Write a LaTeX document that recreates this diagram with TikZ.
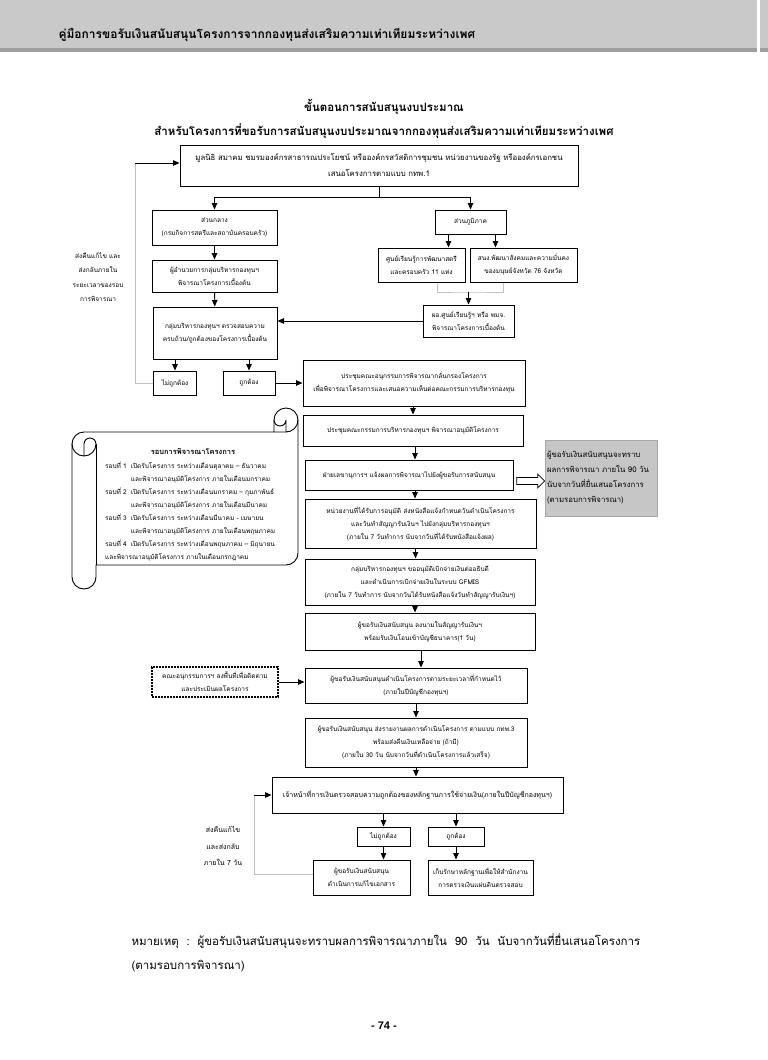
\documentclass[tikz,border=0pt]{standalone}
\usepackage{fontspec}
\setmainfont{Loma}[Script=Thai]
\newfontfamily\numfont{Liberation Sans}
\usetikzlibrary{arrows.meta,shapes.arrows}

\begin{document}
\begin{tikzpicture}[x=1pt,y=-1pt,
  box/.style={draw=black,line width=1pt,align=center,inner sep=1pt,
    font=\fontsize{6.5}{13}\selectfont},
  side/.style={align=center,font=\fontsize{6.5}{14.5}\selectfont},
  arr/.style={-{Triangle[length=6.5pt,width=5.5pt]},line width=0.9pt},
  back/.style={draw=gray!50,line width=0.8pt}]
\useasboundingbox (0,0) rectangle (768,1060);
% page head
\fill[gray!42] (0,0) rectangle (757,48);
\fill[gray!75] (0,48) rectangle (757,52);
\fill[gray!42] (760,0) rectangle (768,48);
\fill[gray!75] (760,48) rectangle (768,52);
\node[anchor=west,font=\fontsize{12}{14}\selectfont\bfseries] (head) at (55,35) {คู่มือการขอรับเงินสนับสนุนโครงการจากกองทุนส่งเสริมความเท่าเทียมระหว่างเพศ};

% title
\node[font=\fontsize{11.5}{13}\selectfont\bfseries] (title1) at (384,107) {ขั้นตอนการสนับสนุนงบประมาณ};
\node[font=\fontsize{11.5}{13}\selectfont\bfseries] (title2) at (384,131) {สำหรับโครงการที่ขอรับการสนับสนุนงบประมาณจากกองทุนส่งเสริมความเท่าเทียมระหว่างเพศ};

% submission and screening
\node[box,font=\fontsize{7.8}{16}\selectfont,minimum width=398,minimum height=41] (top) at (379,165.5) {มูลนิธิ สมาคม ชมรมองค์กรสาธารณประโยชน์ หรือองค์กรสวัสดิการชุมชน หน่วยงานของรัฐ หรือองค์กรเอกชน\\เสนอโครงการตามแบบ กทพ.1};
\node[box,minimum width=125,minimum height=35] (central) at (214.5,227.5) {ส่วนกลาง\\(กรมกิจการสตรีและสถาบันครอบครัว)};
\node[box,minimum width=125,minimum height=32] (director) at (214.5,276) {ผู้อำนวยการกลุ่มบริหารกองทุนฯ\\พิจารณาโครงการเบื้องต้น};
\node[box,minimum width=124,minimum height=52] (check) at (215,333) {กลุ่มบริหารกองทุนฯ ตรวจสอบความ\\ครบถ้วน/ถูกต้องของโครงการเบื้องต้น};
\node[box,minimum width=71,minimum height=24] (region) at (470.5,222) {ส่วนภูมิภาค};
\node[box,minimum width=87,minimum height=34] (centre) at (421.5,265) {ศูนย์เรียนรู้การพัฒนาสตรี\\และครอบครัว 11 แห่ง};
\node[box,minimum width=107,minimum height=34] (province) at (523.5,265) {สนง.พัฒนาสังคมและความมั่นคง\\ของมนุษย์จังหวัด 76 จังหวัด};
\node[box,minimum width=91,minimum height=32] (head2) at (468.5,321) {ผอ.ศูนย์เรียนรู้ฯ หรือ พมจ.\\พิจารณาโครงการเบื้องต้น};
\node[box,minimum width=43,minimum height=24] (wrong1) at (175,383) {ไม่ถูกต้อง};
\node[box,minimum width=52,minimum height=24] (right1) at (249,383) {ถูกต้อง};
\node[side] (return1) at (98,277) {ส่งคืนแก้ไข และ\\ส่งกลับภายใน\\ระยะเวลาของรอบ\\การพิจารณา};

\draw[arr] (top.south) -- ++(0,11) coordinate (split) -| (central.north);
\draw[arr] (split) -| (region.north);
\draw[arr] (central) -- (director);
\draw[arr] (director) -- (check);
\draw[arr] ([xshift=-22pt]region.south) -- ([xshift=-22pt]region.south |- centre.north);
\draw[arr] ([xshift=25pt]region.south) -- ([xshift=25pt]region.south |- province.north);
\coordinate (merge) at (468.5,292);
\draw[back] ([xshift=16pt]centre.south) |- (merge) -| ([xshift=-20pt]province.south);
\draw[arr] (merge) -- (head2);
\draw[arr] (head2.west) -- (head2.west -| check.east);
\draw[arr] (check.south -| wrong1) -- (wrong1);
\draw[arr] (check.south -| right1) -- (right1);
\coordinate (back1) at (135,163);
\draw[back] (wrong1.west) -| (back1);
\draw[arr] (back1) -- (back1 -| top.west);

% approval
\node[box,minimum width=222,minimum height=46] (sub) at (414,383) {ประชุมคณะอนุกรรมการพิจารณากลั่นกรองโครงการ\\เพื่อพิจารณาโครงการและเสนอความเห็นต่อคณะกรรมการบริหารกองทุน};
\node[box,minimum width=220,minimum height=31] (board) at (413,430.5) {ประชุมคณะกรรมการบริหารกองทุนฯ พิจารณาอนุมัติโครงการ};
\node[box,minimum width=208,minimum height=30] (secretary) at (409,475) {ฝ่ายเลขานุการฯ แจ้งผลการพิจารณาไปยังผู้ขอรับการสนับสนุน};
\node[draw=gray!70,fill=gray!45,line width=1pt,align=left,text width=108pt,inner sep=2pt,
  minimum height=76,font=\fontsize{7.8}{15}\selectfont] (info) at (601,478) {ผู้ขอรับเงินสนับสนุนจะทราบ\\ผลการพิจารณา ภายใน 90 วัน\\นับจากวันที่ยื่นเสนอโครงการ\\(ตามรอบการพิจารณา)};
\node[single arrow,draw,line width=0.7pt,minimum height=28pt,minimum width=14pt,
  single arrow head extend=3.5pt,inner sep=3pt] (toinfo) at (529,481) {};
\node[box,minimum width=231,minimum height=49] (notify) at (420.5,523.5) {หน่วยงานที่ได้รับการอนุมัติ ส่งหนังสือแจ้งกำหนดวันดำเนินโครงการ\\และวันทำสัญญารับเงินฯ ไปยังกลุ่มบริหารกองทุนฯ\\(ภายใน 7 วันทำการ นับจากวันที่ได้รับหนังสือแจ้งผล)};
\node[box,minimum width=230,minimum height=46] (payout) at (420,582) {กลุ่มบริหารกองทุนฯ ขออนุมัติเบิกจ่ายเงินต่ออธิบดี\\และดำเนินการเบิกจ่ายเงินในระบบ GFMIS\\(ภายใน 7 วันทำการ นับจากวันได้รับหนังสือแจ้งวันทำสัญญารับเงินฯ)};
\node[box,minimum width=230,minimum height=37] (sign) at (420,631.5) {ผู้ขอรับเงินสนับสนุน ลงนามในสัญญารับเงินฯ\\พร้อมรับเงินโอนเข้าบัญชีธนาคาร(1 วัน)};

\draw[arr] (right1) -- (sub);
\draw[arr] (sub.south -| board) -- (board);
\draw[arr] ([xshift=2pt]board.south) -- ([xshift=2pt]board.south |- secretary.north);
\draw[arr] ([xshift=6pt]secretary.south) -- ([xshift=6pt]secretary.south |- notify.north);
\draw[arr] ([xshift=-5pt]notify.south) -- ([xshift=-5pt]notify.south |- payout.north);
\draw[arr] ([xshift=-5pt]payout.south) -- ([xshift=-5pt]payout.south |- sign.north);

% scroll with the rounds
\draw[line width=0.9pt,fill=white] (72,444) arc[start angle=180,end angle=270,radius=12]
  -- (274,432) -- (274,420) arc[start angle=180,end angle=360,radius=12]
  -- (298,553) arc[start angle=0,end angle=90,radius=12]
  -- (96,565) -- (96,577) arc[start angle=0,end angle=180,radius=12] -- cycle;
\draw[line width=0.9pt] (274,432) -- (286,432) arc[start angle=90,end angle=0,radius=12];
\draw[line width=0.9pt] (286,432) -- (286,420) arc[start angle=0,end angle=180,radius=6];
\draw[line width=0.9pt] (84,456) -- (84,444) arc[start angle=180,end angle=360,radius=6]
  arc[start angle=0,end angle=180,radius=12];
\draw[line width=0.9pt] (96,444) -- (96,565);
\node[font=\fontsize{7.5}{9}\selectfont\bfseries] (rtitle) at (193,451) {รอบการพิจารณาโครงการ};
\node[anchor=north west,inner sep=0pt,font=\fontsize{6.5}{13}\selectfont] (rounds) at (105,459) {%
\begin{tabular}{@{}l@{\hspace{4pt}}l@{}}
รอบที่ 1 & เปิดรับโครงการ ระหว่างเดือนตุลาคม – ธันวาคม\\
 & และพิจารณาอนุมัติโครงการ ภายในเดือนมกราคม\\
รอบที่ 2 & เปิดรับโครงการ ระหว่างเดือนมกราคม – กุมภาพันธ์\\
 & และพิจารณาอนุมัติโครงการ ภายในเดือนมีนาคม\\
รอบที่ 3 & เปิดรับโครงการ ระหว่างเดือนมีนาคม - เมษายน\\
 & และพิจารณาอนุมัติโครงการ ภายในเดือนพฤษภาคม\\
รอบที่ 4 & เปิดรับโครงการ ระหว่างเดือนพฤษภาคม – มิถุนายน\\
\multicolumn{2}{@{}l@{}}{และพิจารณาอนุมัติโครงการ ภายในเดือนกรกฎาคม}
\end{tabular}};

% carrying out and checking
\node[box,dashed,line width=1.3pt,dash pattern=on 2pt off 1pt,minimum width=126,minimum height=30] (follow) at (215,682) {คณะอนุกรรมการฯ ลงพื้นที่เพื่อติดตาม\\และประเมินผลโครงการ};
\node[box,minimum width=222,minimum height=35] (run) at (416,685.5) {ผู้ขอรับเงินสนับสนุนดำเนินโครงการตามระยะเวลาที่กำหนดไว้\\(ภายในปีบัญชีกองทุนฯ)};
\node[box,minimum width=222,minimum height=49] (report) at (416,742.5) {ผู้ขอรับเงินสนับสนุน ส่งรายงานผลการดำเนินโครงการ ตามแบบ กทพ.3\\พร้อมส่งคืนเงินเหลือจ่าย (ถ้ามี)\\(ภายใน 30 วัน นับจากวันที่ดำเนินโครงการแล้วเสร็จ)};
\node[box,font=\fontsize{7}{13}\selectfont,minimum width=291,minimum height=36] (finance) at (417.5,795) {เจ้าหน้าที่การเงินตรวจสอบความถูกต้องของหลักฐานการใช้จ่ายเงิน(ภายในปีบัญชีกองทุนฯ)};
\node[box,minimum width=53,minimum height=19] (wrong2) at (383.5,836.5) {ไม่ถูกต้อง};
\node[box,minimum width=56,minimum height=19] (right2) at (456,836.5) {ถูกต้อง};
\node[box,minimum width=97,minimum height=35] (fix) at (361.5,877.5) {ผู้ขอรับเงินสนับสนุน\\ดำเนินการแก้ไขเอกสาร};
\node[box,minimum width=105,minimum height=35] (keep) at (480.5,877.5) {เก็บรักษาหลักฐานเพื่อให้สำนักงาน\\การตรวจเงินแผ่นดินตรวจสอบ};
\node[side,font=\fontsize{7}{16.5}\selectfont] (return2) at (223,846) {ส่งคืนแก้ไข\\และส่งกลับ\\ภายใน 7 วัน};

\draw[arr] ([xshift=1pt]sign.south) -- ([xshift=1pt]sign.south |- run.north);
\draw[arr] (follow.east) -- (follow.east -| run.west);
\draw[arr] (run) -- (report);
\draw[arr] (report) -- (report.south |- finance.north);
\draw[arr] (finance.south -| wrong2) -- (wrong2);
\draw[arr] (finance.south -| right2) -- (right2);
\draw[arr] (wrong2) -- (wrong2 |- fix.north);
\draw[arr] (right2) -- (right2 |- keep.north);
\coordinate (back2) at (254,795);
\draw[back] ([yshift=3pt]fix.west) -| (back2);
\draw[arr] (back2) -- (finance.west);

% remark and page number
\node[anchor=west,font=\fontsize{11.5}{13}\selectfont] (remark) at (128,941) {หมายเหตุ~~:~~ผู้ขอรับเงินสนับสนุนจะทราบผลการพิจารณาภายใน~~90~~วัน~~นับจากวันที่ยื่นเสนอโครงการ};
\node[anchor=west,font=\fontsize{11.5}{13}\selectfont] (remark2) at (128,966) {(ตามรอบการพิจารณา)};
\node[font=\numfont\bfseries\fontsize{11}{13}\selectfont] (page) at (384,1026) {- 74 -};
\end{tikzpicture}
\end{document}
